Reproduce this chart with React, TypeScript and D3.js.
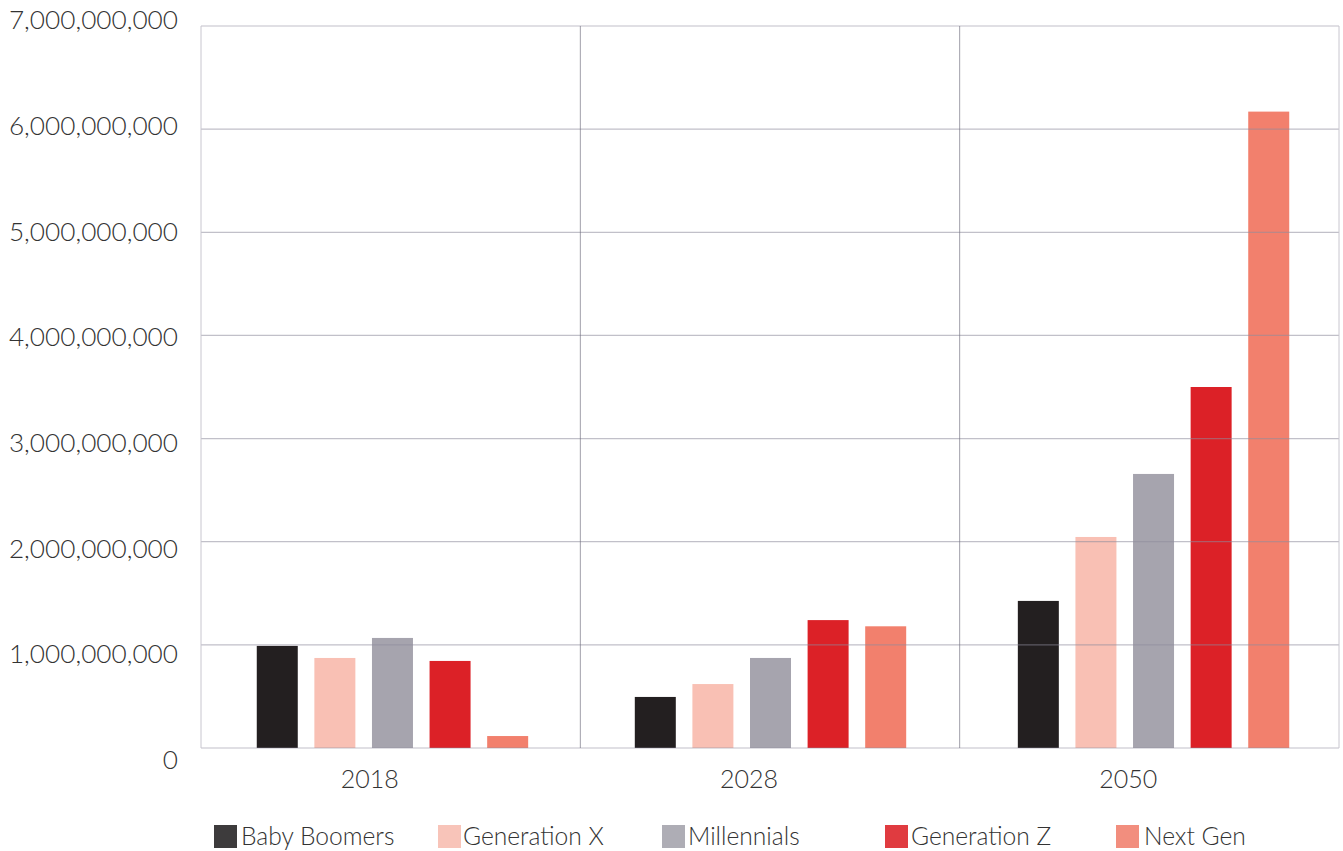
import React from "react";
import * as d3 from "d3";

const years = ["2018", "2028", "2050"];
const series = ["Baby Boomers", "Generation X", "Millennials", "Generation Z", "Next Gen"];
const barColors = ["#231f20", "#f9c0b4", "#a6a4ae", "#dc2127", "#f2806d"];
const legendColors = ["#3d3b3c", "#f8c4b9", "#aeadb5", "#e03b40", "#f28e7e"];
const babyBoomers = [990e6, 495e6, 1426e6];
const generationX = [873e6, 620e6, 2046e6];
const millennials = [1067e6, 873e6, 2657e6];
const generationZ = [844e6, 1240e6, 3500e6];
const nextGen = [116e6, 1180e6, 6170e6];
const yTicks = [0, 1e9, 2e9, 3e9, 4e9, 5e9, 6e9, 7e9];
const legendX = [214, 438, 662, 885, 1116];
const legendTextGap = [27, 25, 26, 26, 28];

const values = [babyBoomers, generationX, millennials, generationZ, nextGen];
const groupShift = [1.8, 0.5, 4.2];

export default function App() {
  const W = 1343, H = 851;
  const left = 201, right = 1339, top = 26, bottom = 748;
  const x = d3.scaleBand<string>().domain(years).range([left, right]);
  const y = d3.scaleLinear().domain([0, 7e9]).range([bottom, top]);
  const yLab = d3.scaleLinear().domain([0, 7e9]).range([760, 20]);
  const barW = 41;
  const step = 57.6;
  const fmt = d3.format(",");
  const font = "Lato, 'Open Sans', sans-serif";
  return (
    <svg width={W} height={H} style={{ position: "absolute", left: 0, top: 0, background: "#fff" }}>
      {years.map((yr, i) =>
        series.map((s, j) => {
          const cx = x(yr)! + x.bandwidth() / 2 + (j - 2) * step + groupShift[i];
          const v = values[j][i];
          return (
            <rect key={yr + s} x={cx - barW / 2} y={y(v)} width={barW} height={bottom - y(v)} fill={barColors[j]} />
          );
        })
      )}
      {yTicks.map((t) => (
        <line key={t} x1={left} x2={right} y1={y(t)} y2={y(t)} stroke="#8e8c9c" strokeOpacity={0.55} strokeWidth={1.2} />
      ))}
      <line x1={left} x2={left} y1={top} y2={bottom} stroke="#c8c6cf" strokeWidth={1} />
      <line x1={right} x2={right} y1={top} y2={bottom} stroke="#c8c6cf" strokeWidth={1} />
      {years.slice(1).map((yr) => (
        <line key={yr} x1={x(yr)!} x2={x(yr)!} y1={top} y2={bottom} stroke="#6e6c7c" strokeOpacity={0.65} strokeWidth={1} />
      ))}
      {yTicks.map((t) => (
        <text key={t} x={178} y={yLab(t)} dy="0.35em" textAnchor="end" fontFamily={font} fontWeight={300} fontSize={26.2} fill="#333">
          {fmt(t)}
        </text>
      ))}
      {years.map((yr) => (
        <text key={yr} x={x(yr)! + x.bandwidth() / 2 - 21} y={779} dy="0.35em" textAnchor="middle" fontFamily={font} fontWeight={300} fontSize={25} fill="#333">
          {yr}
        </text>
      ))}
      {series.map((s, j) => (
        <g key={s} transform={`translate(${legendX[j]},825)`}>
          <rect x={0} y={0} width={23} height={23} fill={legendColors[j]} />
          <text x={legendTextGap[j]} y={11.5} dy="0.35em" fontFamily={font} fontWeight={300} fontSize={24.6} fill="#333">
            {s}
          </text>
        </g>
      ))}
    </svg>
  );
}
